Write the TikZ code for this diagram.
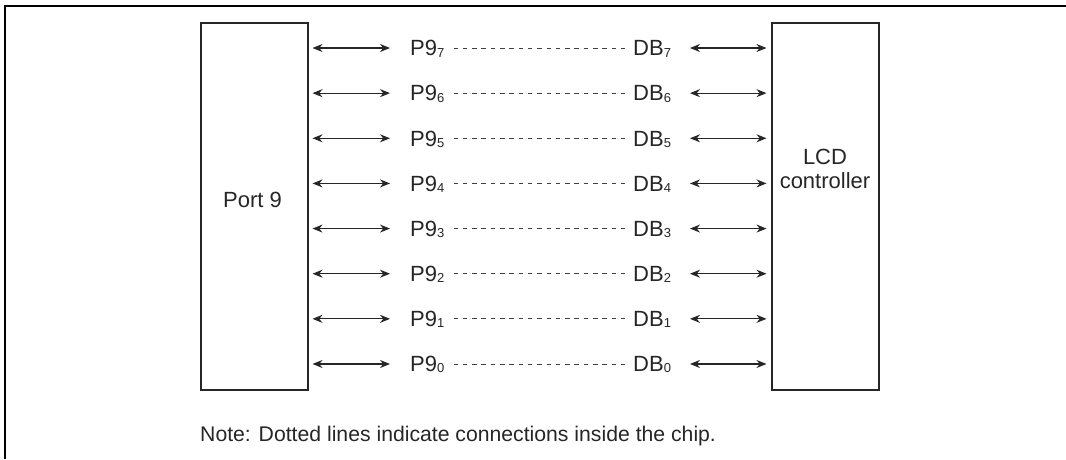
\documentclass[tikz,border=0pt]{standalone}
\usepackage{fontspec}
\setmainfont{Liberation Sans}
\usetikzlibrary{arrows.meta}
\newcommand{\pinsub}[1]{\raisebox{-1.2pt}{\fontsize{13}{14}\selectfont #1}}
\tikzset{
  chipbox/.style={draw=black!85, line width=2pt, minimum width=107pt, minimum height=367pt, inner sep=0pt, align=center, font=\fontsize{22}{28}\selectfont, text=black!85},
  pinlabel/.style={inner sep=0pt, font=\fontsize{22}{26}\selectfont, text=black!85},
  notetext/.style={inner sep=0pt, font=\fontsize{21.2}{26}\selectfont, text=black!85},
  bi/.style={line width=1.2pt, draw=black!85, {Stealth[length=10pt,width=8pt]}-{Stealth[length=10pt,width=8pt]}},
  insideline/.style={line width=0.8pt, draw=black!75, dash pattern=on 4.5pt off 4.8pt},
  frameline/.style={line width=2.5pt, draw=black}
}
\begin{document}
\begin{tikzpicture}[x=1pt,y=-1pt]
\useasboundingbox (0,0) rectangle (1066,459);
\draw[frameline] (1066,6) -- (5,6) -- (5,459);
\node[chipbox] (port) at (254,206.5) {};
\node[pinlabel, anchor=base] (porttxt) at (252.5,207) {Port 9};
\node[chipbox] (lcd) at (825,206.5) {};
\node[pinlabel, align=center, anchor=base] (lcdtxt) at (825,188) {LCD\\[-2pt]controller};
\foreach \k in {0,...,7}{
  \pgfmathsetmacro{\yy}{48+(7-\k)*45.14}
  \coordinate (r\k) at (0,\yy);
  \node[pinlabel, anchor=base west] (p\k) at (410,\yy+7.8) {P9\pinsub{\k}};
  \node[pinlabel, anchor=base west] (d\k) at (633,\yy+7.8) {DB\pinsub{\k}};
  \draw[bi] ([xshift=4pt]port.east |- r\k) -- (390,\yy);
  \draw[insideline] ([xshift=9pt]p\k.east |- r\k) -- ([xshift=-8pt]d\k.west |- r\k);
  \draw[bi] (690,\yy) -- ([xshift=-4pt]lcd.west |- r\k);
}
\node[notetext, anchor=base west] (note) at (200,441.5) {Note: Dotted lines indicate connections inside the chip.};
\end{tikzpicture}
\end{document}
